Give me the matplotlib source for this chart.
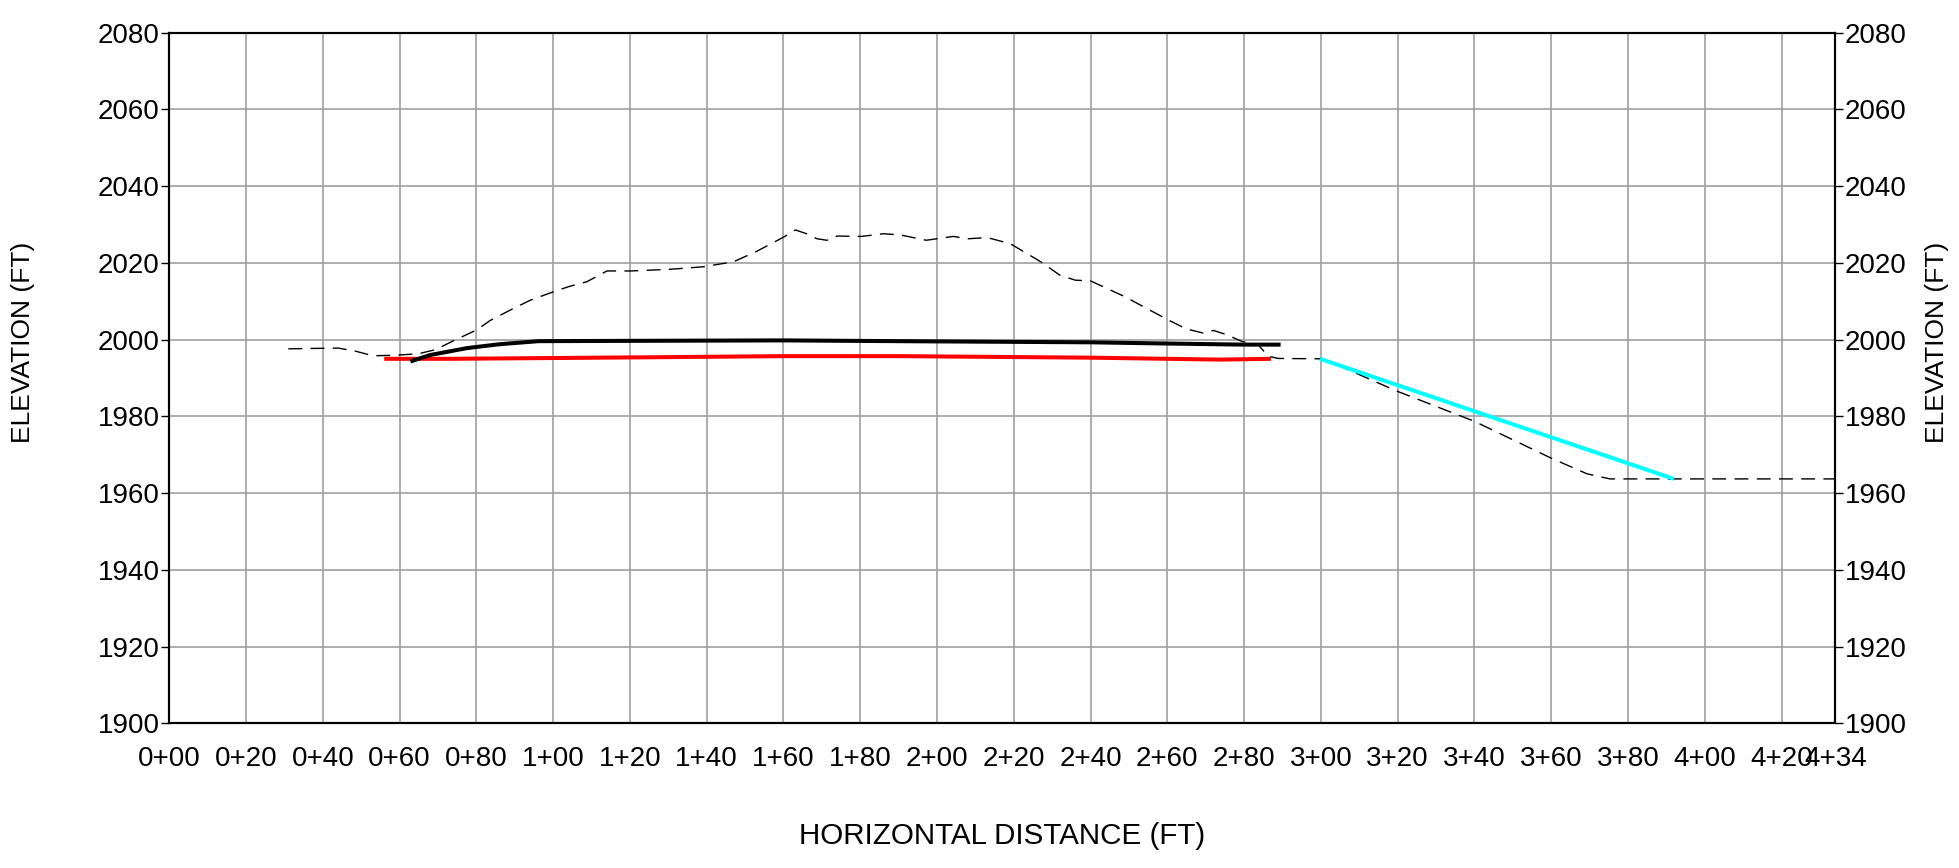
import matplotlib
matplotlib.use("Agg")
import matplotlib.pyplot as plt

plt.rcParams['font.family'] = ['Liberation Sans', 'DejaVu Sans']

# ---- data ----
xtick_vals = [0, 20, 40, 60, 80, 100, 120, 140, 160, 180, 200, 220, 240, 260, 280, 300,
              320, 340, 360, 380, 400, 420, 434]
xtick_labels = ["0+00", "0+20", "0+40", "0+60", "0+80", "1+00", "1+20", "1+40", "1+60",
                "1+80", "2+00", "2+20", "2+40", "2+60", "2+80", "3+00", "3+20", "3+40",
                "3+60", "3+80", "4+00", "4+20", "4+34"]
ytick_vals = [1900, 1920, 1940, 1960, 1980, 2000, 2020, 2040, 2060, 2080]

ground_x = [31, 37, 44, 48.5, 53, 58, 64.8, 69.4, 73.2, 80.2, 83.6, 89, 94.1, 99.3, 104,
            108.8, 114, 120.1, 130, 139.2, 147, 153, 160, 163.1, 166, 168.7, 171.3, 174,
            180.3, 186, 190.4, 197.2, 204.2, 208.2, 213.1, 219.1, 227, 232, 236, 240,
            248.9, 259.9, 264.9, 269.4, 272, 275.4, 279.5, 283.5, 286.3, 288.8, 299.8,
            304, 320, 340, 360, 369.4, 375.3, 391.5, 434]
ground_y = [1997.6, 1997.7, 1997.8, 1997.0, 1995.8, 1995.9, 1996.3, 1997.4, 1999.3, 2002.6,
            2005.0, 2007.8, 2010.3, 2012.2, 2013.8, 2015.1, 2017.9, 2017.9, 2018.3, 2019.0,
            2020.3, 2023.0, 2026.7, 2028.6, 2027.6, 2026.3, 2025.9, 2027.0, 2026.9, 2027.6,
            2027.3, 2025.9, 2026.9, 2026.3, 2026.6, 2025.0, 2020.3, 2016.8, 2015.5, 2015.3,
            2011.2, 2005.3, 2002.8, 2001.7, 2002.4, 2001.3, 1999.5, 1998.8, 1995.7, 1995.1,
            1995.0, 1993.5, 1986.5, 1978.7, 1969.1, 1965.0, 1963.7, 1963.7, 1963.7]

black_x = [62.8, 68, 77.6, 86, 96.2, 125, 160, 190, 240, 259, 279.8, 289.5]
black_y = [1994.3, 1996.0, 1997.8, 1998.8, 1999.6, 1999.7, 1999.8, 1999.6, 1999.3, 1999.0,
           1998.7, 1998.7]

red_x = [56, 73, 125, 160, 190, 240, 273.8, 287]
red_y = [1995.0, 1995.0, 1995.4, 1995.7, 1995.7, 1995.3, 1994.8, 1995.0]

cyan_x = [299.8, 392]
cyan_y = [1995.0, 1963.7]

# ---- figure ----
W, H = 1959, 868
fig = plt.figure(figsize=(W / 100, H / 100), dpi=100)
L, R, T, B = 169.3, 1835.3, 32.7, 723.3
ax = fig.add_axes([L / W, (H - B) / H, (R - L) / W, (B - T) / H])

ax.set_xlim(0, 434)
ax.set_ylim(1900, 2080)

ax.set_xticks(xtick_vals)
ax.set_xticklabels(xtick_labels)
ax.set_yticks(ytick_vals)

ax.grid(True, color='#a0a0a0', linewidth=1.2, zorder=0)
ax.set_axisbelow(True)

ax.plot(ground_x, ground_y, color='black', linewidth=1.0, linestyle=(0, (10, 6)), zorder=3)
ax.plot(red_x, red_y, color='#ff0000', linewidth=2.9, zorder=4, solid_capstyle='butt')
ax.plot(black_x, black_y, color='black', linewidth=2.9, zorder=5, solid_capstyle='butt')
ax.plot(cyan_x, cyan_y, color='#00ffff', linewidth=2.9, zorder=4, solid_capstyle='butt')

for s in ax.spines.values():
    s.set_linewidth(1.5)
    s.set_color('black')

ax.tick_params(axis='x', length=0, pad=16, labelsize=20)
ax.tick_params(axis='y', length=5.5, width=1.0, pad=1.5, labelsize=20, direction='out')

ax2 = ax.twinx()
ax2.set_ylim(1900, 2080)
ax2.set_yticks(ytick_vals)
ax2.tick_params(axis='y', length=5.5, width=1.0, pad=1.5, labelsize=20, direction='out')
for s in ax2.spines.values():
    s.set_linewidth(1.5)

cy = (H - 342) / H
fig.text(23 / W, cy, "ELEVATION (FT)", rotation=90, ha='center', va='center', fontsize=19)
fig.text(1937 / W, cy, "ELEVATION (FT)", rotation=90, ha='center', va='center', fontsize=19)
fig.text(((L + R) / 2) / W, (H - 836) / H, "HORIZONTAL DISTANCE (FT)", ha='center',
         va='center', fontsize=21.3)

fig.savefig("out.png", dpi=100)
